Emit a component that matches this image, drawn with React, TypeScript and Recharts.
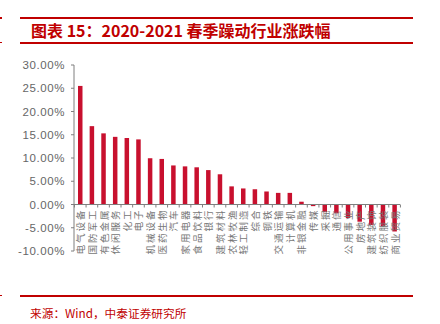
import { BarChart, Bar, XAxis, YAxis, ReferenceLine, LabelList } from "recharts";

document.body.style.margin = "0";

const industries = [
  "电气设备", "国防军工", "有色金属", "休闲服务", "化工", "电子", "机械设备",
  "医药生物", "汽车", "家用电器", "食品饮料", "银行", "建筑材料", "农林牧渔",
  "轻工制造", "综合", "钢铁", "交通运输", "计算机", "非银金融", "传媒", "采掘",
  "通信", "公用事业", "房地产", "建筑装饰", "纺织服装", "商业贸易",
];
const changes = [
  25.5, 16.85, 15.3, 14.55, 14.3, 14.0, 9.95, 9.8, 8.4, 8.2, 8.0, 7.4, 6.5, 3.9,
  3.45, 3.3, 2.8, 2.5, 2.5, 0.6, -0.35, -1.65, -1.9, -2.9, -3.7, -4.4, -4.7, -5.8,
];
const yTicks = [-10, -5, 0, 5, 10, 15, 20, 25, 30];

const data = industries.map((name, i) => ({ name, value: changes[i] }));

const RED = "#C00000";
const BAR = "#C8102E";
const GREY = "#7f7f7f";
const W = 440;
const H = 324;
const margin = { top: 65, right: 40, bottom: 73, left: 0 };
const Y_W = 74;
const band = (W - Y_W - margin.right) / industries.length;

// category label drawn from the zero line down, rotated like Excel's -90deg text
function CatLabel(props: any) {
  const vb = props.viewBox ?? props;
  const { x, y, width, height } = vb;
  const idx = props.index;
  const v = changes[idx];
  const top = Math.min(y, y + height);
  const bot = Math.max(y, y + height);
  const zeroY = v >= 0 ? bot : top;
  const cx = x + width / 2;
  const ty = zeroY + 4;
  const left = cx - band / 2;
  return (
    <g>
      <line x1={left} x2={left} y1={zeroY} y2={zeroY + 3} stroke={GREY} />
      {idx === industries.length - 1 && (
        <line x1={left + band} x2={left + band} y1={zeroY} y2={zeroY + 3} stroke={GREY} />
      )}
      <text
        x={cx}
        y={ty}
        transform={`rotate(-90, ${cx}, ${ty})`}
        textAnchor="end"
        dominantBaseline="central"
        fontSize={9.5}
        letterSpacing={2}
        fill="#767676"
        fontFamily="'Noto Sans CJK SC'"
      >
        {industries[idx]}
      </text>
    </g>
  );
}

export default function App() {
  return (
    <div style={{ position: "relative", width: W, height: H, background: "#fff", overflow: "hidden" }}>
      <div style={{ position: "absolute", left: 0, top: 17, width: 2, height: 2, background: RED }} />
      <div style={{ position: "absolute", left: 0, top: 42, width: 2, height: 1, background: RED }} />
      <div style={{ position: "absolute", left: 0, top: 295, width: 2, height: 1, background: RED }} />
      <div style={{ position: "absolute", left: 20, top: 17, width: 393, height: 2, background: RED }} />
      <div
        style={{
          position: "absolute",
          left: 31,
          top: 20,
          fontFamily: "'Noto Sans CJK SC'",
          fontWeight: 700,
          fontSize: 16,
          lineHeight: "21px",
          color: RED,
          whiteSpace: "nowrap",
        }}
      >
        图表 15：2020-2021 春季躁动行业涨跌幅
      </div>
      <div style={{ position: "absolute", left: 20, top: 42, width: 393, height: 1.5, background: RED }} />
      <BarChart width={W} height={H} data={data} margin={margin} barCategoryGap={0}>
        <XAxis dataKey="name" hide />
        <YAxis
          width={Y_W}
          domain={[-10, 30]}
          ticks={yTicks}
          interval={0}
          tickFormatter={(v: number) => `${v.toFixed(2)}%`}
          tick={{ fontSize: 11.5, fill: "#666", fontFamily: "'Liberation Sans'", letterSpacing: 0.6 }}
          stroke={GREY}
          tickSize={3}
          tickMargin={6}
        />
        <ReferenceLine y={0} stroke={GREY} />
        <Bar dataKey="value" fill={BAR} barSize={4.5} isAnimationActive={false}>
          <LabelList dataKey="value" content={CatLabel} />
        </Bar>
      </BarChart>
      <div style={{ position: "absolute", left: 20, top: 295, width: 393, height: 1.5, background: RED }} />
      <div
        style={{
          position: "absolute",
          left: 30,
          top: 305,
          fontFamily: "'Noto Sans CJK SC'",
          fontSize: 11.7,
          lineHeight: "16px",
          color: RED,
          whiteSpace: "nowrap",
        }}
      >
        来源：Wind，中泰证券研究所
      </div>
    </div>
  );
}
